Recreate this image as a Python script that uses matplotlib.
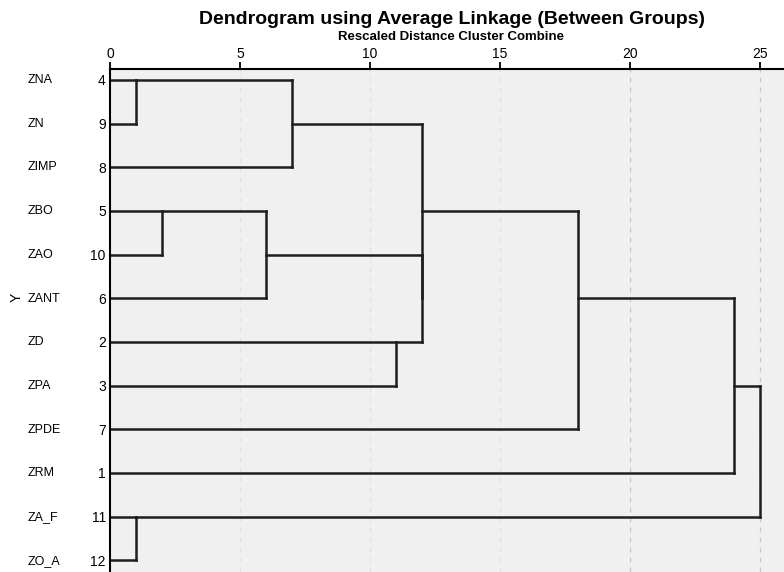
import numpy as np
import matplotlib.pyplot as plt

plt.rcParams['font.family'] = ['Liberation Sans', 'DejaVu Sans']

# variables in plotting order, with their case numbers
names = ['ZNA', 'ZN', 'ZIMP', 'ZBO', 'ZAO', 'ZANT', 'ZD', 'ZPA', 'ZPDE', 'ZRM', 'ZA_F', 'ZO_A']
case_nums = [4, 9, 8, 5, 10, 6, 2, 3, 7, 1, 11, 12]

# agglomeration steps: (cluster a, cluster b, rescaled distance)
# leaves are 0..11, each merge creates a new cluster id 12, 13, ...
merges = [
    (0, 1, 1),     # 12: ZNA + ZN
    (10, 11, 1),   # 13: ZA_F + ZO_A
    (3, 4, 2),     # 14: ZBO + ZAO
    (14, 5, 6),    # 15: + ZANT
    (12, 2, 7),    # 16: + ZIMP
    (6, 7, 11),    # 17: ZD + ZPA
    (15, 17, 12),  # 18
    (16, 18, 12),  # 19
    (19, 8, 18),   # 20: + ZPDE
    (20, 9, 24),   # 21: + ZRM
    (21, 13, 25),  # 22: + ZA_F/ZO_A
]
x_ticks = [0, 5, 10, 15, 20, 25]

fig = plt.figure(figsize=(7.84, 5.72), dpi=100)
ax = fig.add_axes([110 / 784, 0, 1 - 110 / 784, 1 - 69 / 572])
ax.set_facecolor('#f0f0f0')

# node -> (row, height)
nodes = {i: (i, 0.0) for i in range(len(names))}
lc = '#1e1e1e'
for k, (a, b, d) in enumerate(merges):
    ra, ha = nodes[a]
    rb, hb = nodes[b]
    ax.plot([ha, d], [ra, ra], color=lc, lw=1.8, solid_capstyle='projecting')
    ax.plot([hb, d], [rb, rb], color=lc, lw=1.8, solid_capstyle='projecting')
    ax.plot([d, d], [ra, rb], color=lc, lw=1.8, solid_capstyle='projecting')
    nodes[len(names) + k] = ((ra + rb) // 2, d)

ax.set_xlim(0, 25.92)
ax.set_ylim(11.27, -0.25)

for t in x_ticks[1:]:
    c = '#c8c8c8' if t >= 20 else '#e2e2e2'
    ax.axvline(t, color=c, lw=0.9, ls=(0, (4, 4)), zorder=0)

ax.xaxis.tick_top()
ax.set_xticks(x_ticks)
ax.tick_params(axis='x', direction='out', length=5, width=1.3, labelsize=10, pad=1)
ax.set_yticks(range(len(names)))
ax.set_yticklabels(case_nums)
ax.tick_params(axis='y', length=0, labelsize=10, pad=3)

for i, nm in enumerate(names):
    ax.text(28 / 784, 1 - (80 + i * 43.7) / 572, nm, transform=fig.transFigure,
            fontsize=9, ha='left', va='center')

for side in ['right', 'bottom']:
    ax.spines[side].set_visible(False)
ax.spines['left'].set_linewidth(1.5)
ax.spines['top'].set_linewidth(1.5)

fig.text(17 / 784, 1 - 297 / 572, 'Y', rotation=90, fontsize=10, ha='center', va='center')
fig.text(452 / 784, 1 - 19 / 572, 'Dendrogram using Average Linkage (Between Groups)',
         fontsize=14, fontweight='bold', ha='center', va='center')
fig.text(451 / 784, 1 - 37 / 572, 'Rescaled Distance Cluster Combine',
         fontsize=9.5, fontweight='bold', ha='center', va='center')

fig.savefig('out.png', dpi=100)
